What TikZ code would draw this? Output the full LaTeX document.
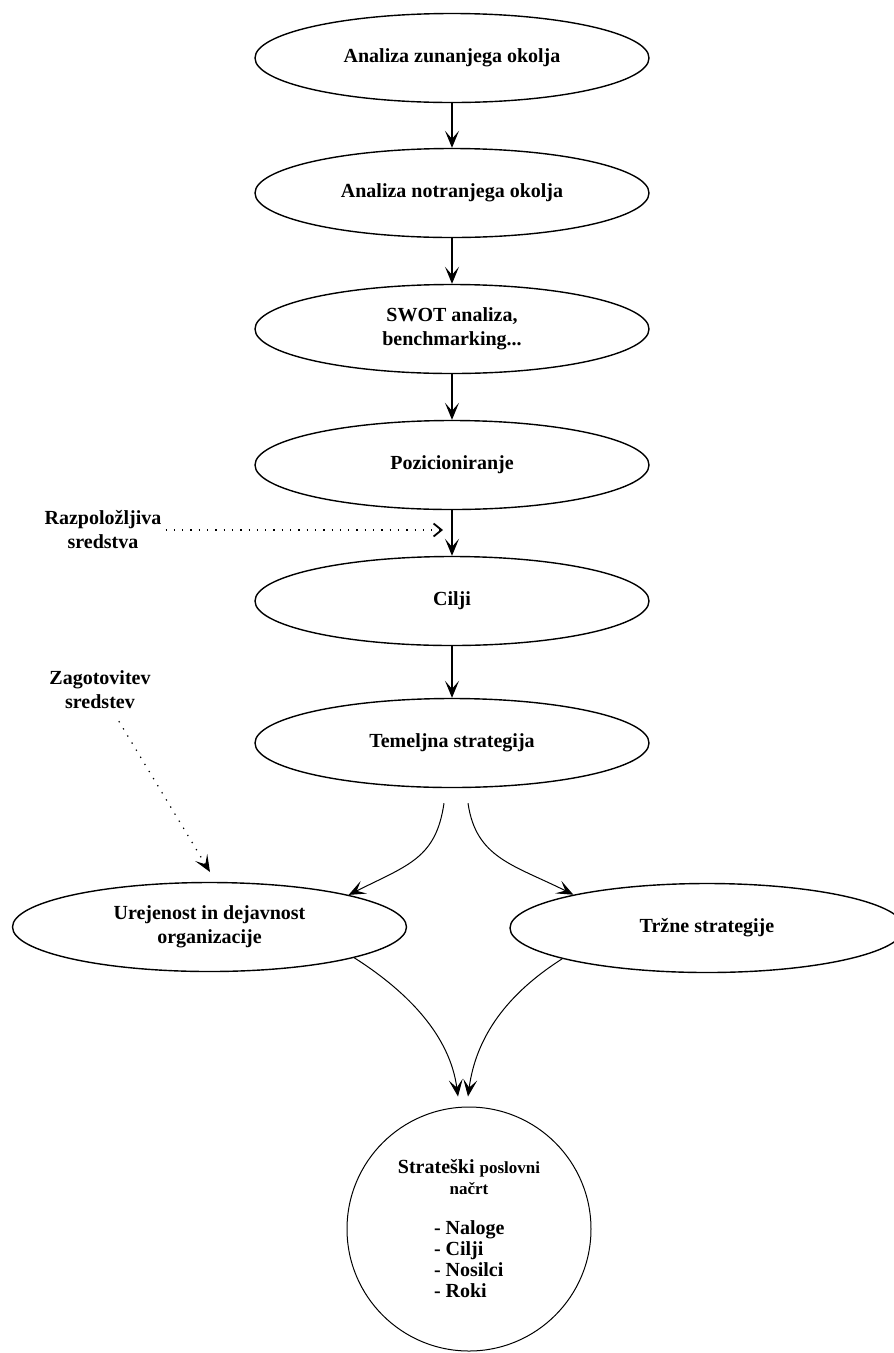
\documentclass[tikz,border=0pt]{standalone}
\usepackage{fontspec}
\setmainfont{Liberation Serif}
\usetikzlibrary{arrows.meta,shapes.geometric,calc}
\begin{document}
\begin{tikzpicture}[x=1pt,y=-1pt,
  every node/.style={font=\bfseries\fontsize{20}{24}\selectfont},
  oval/.style={ellipse, draw, line width=1.4pt, minimum width=394pt, minimum height=89pt, inner sep=0pt, align=center},
  tipA/.tip={Stealth[length=17pt,width=14pt,inset=8pt]},
  flow/.style={line width=1.3pt, -tipA},
  curv/.style={line width=1pt, -tipA},
  dots/.style={line width=1.2pt, dash pattern=on 1.3pt off 7pt},
  lbl/.style={align=center, inner sep=0pt}
]
\useasboundingbox (0,0) rectangle (894,1353);
\fill[white] (0,0) rectangle (894,1353);

\node[oval] (n1) at (452,58) {Analiza zunanjega okolja};
\node[oval] (n2) at (452,193) {Analiza notranjega okolja};
\node[oval] (n3) at (452,329) {SWOT analiza,\\benchmarking...};
\node[oval] (n4) at (452,465) {Pozicioniranje};
\node[oval] (n5) at (452,601) {Cilji};
\node[oval] (n6) at (452,743) {Temeljna strategija};
\node[oval] (n7) at (209.5,927) {Urejenost in dejavnost\\organizacije};
\node[oval] (n8) at (707,928) {Tržne strategije};

\node[circle, draw, line width=1pt, minimum size=244pt, inner sep=0pt, align=center,
  font=\bfseries\fontsize{20}{21}\selectfont] (c) at (469,1229)
  {Strateški {\fontsize{17}{21}\selectfont poslovni}\\
   {\fontsize{17}{21}\selectfont načrt}\\[19pt]
   \makebox[70pt][l]{- Naloge}\\
   \makebox[70pt][l]{- Cilji}\\
   \makebox[70pt][l]{- Nosilci}\\
   \makebox[70pt][l]{- Roki}};

\node[lbl] (r) at (103,530) {Razpoložljiva\\sredstva};
\node[lbl] (z) at (100,690) {Zagotovitev\\sredstev};

\draw[flow] (n1) -- (n2);
\draw[flow] (n2) -- (n3);
\draw[flow] (n3) -- (n4);
\draw[flow] (n4) -- (n5);
\draw[flow] (n5) -- (n6);

\coordinate (rt) at (443,530);
\draw[dots, -{Straight Barb[length=8pt,width=13pt,line width=1.8pt]}, shorten <=4pt] (r) -- (rt);
\coordinate (zt) at (210,872);
\draw[dots, -tipA, shorten <=14pt] (z) -- (zt);

\coordinate (t1) at ($(n6.south)+(-8,15)$);
\coordinate (t2) at ($(n6.south)+(16,15)$);
\draw[curv] (t1) .. controls +(-8,55) and +(60,-30) .. (n7.13);
\draw[curv] (t2) .. controls +(8,55) and +(-60,-30) .. (n8.166);

\coordinate (b1) at ($(c.north)+(-11,-10)$);
\coordinate (b2) at ($(c.north)+(-1,-10)$);
\draw[curv] (n7.-12) .. controls +(55,35) and +(-8,-60) .. (b1);
\draw[curv] (n8.192) .. controls +(-55,35) and +(8,-60) .. (b2);
\end{tikzpicture}
\end{document}
